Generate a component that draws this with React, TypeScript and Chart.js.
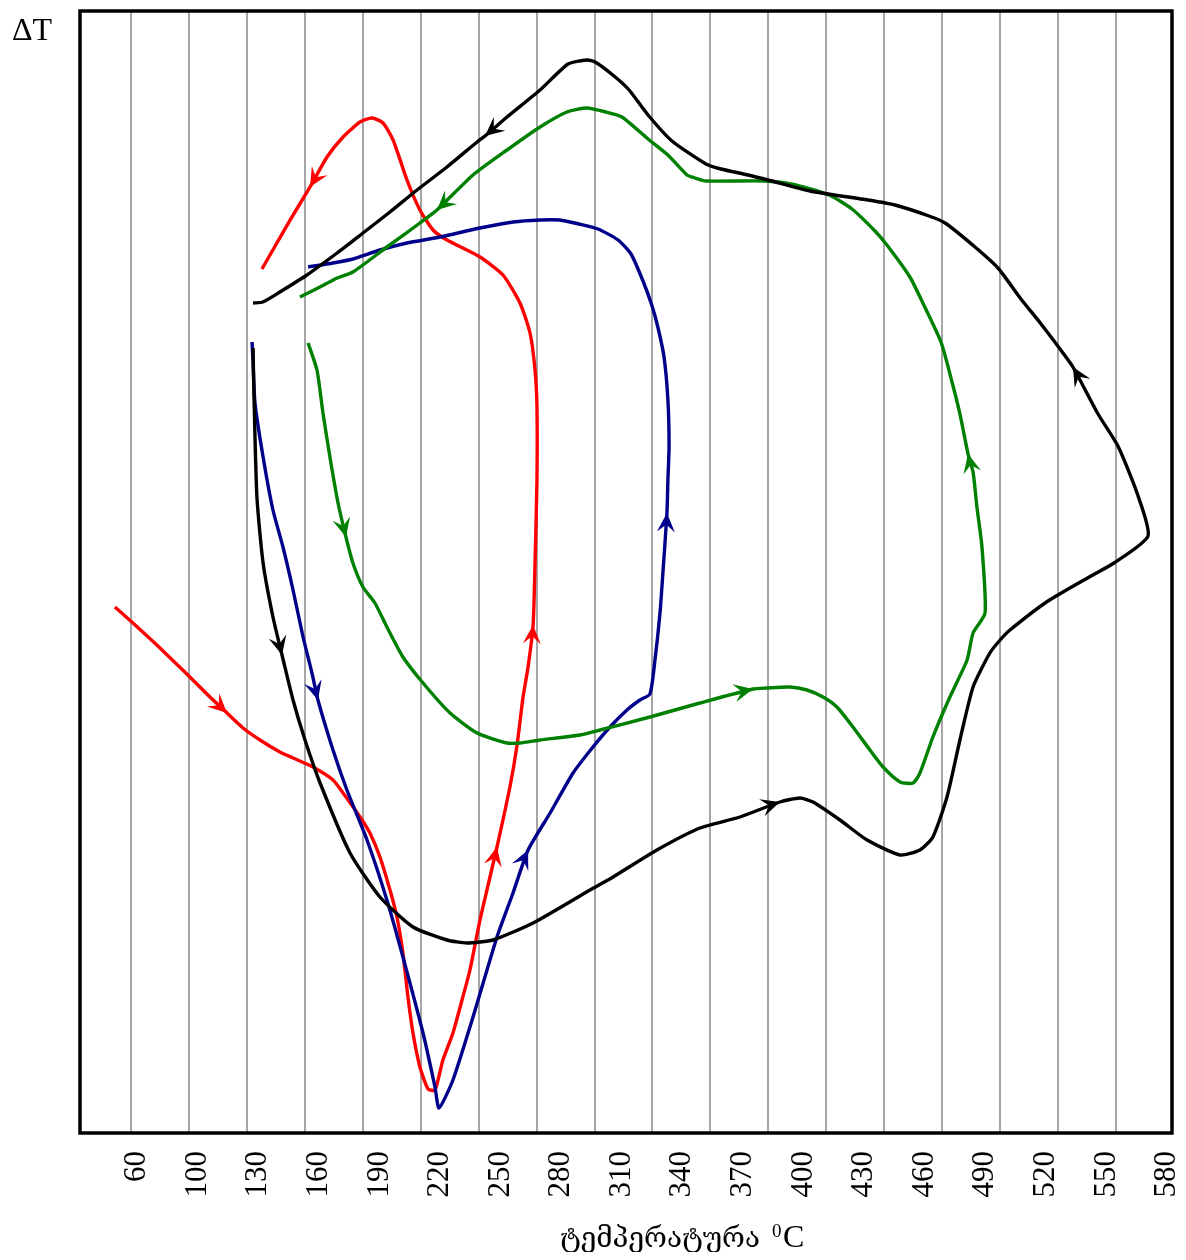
import { useEffect, useRef } from "react";
import { Chart, registerables } from "chart.js";

Chart.register(...registerables);

// Labels printed under the temperature axis
const tickLabels = [
  "60", "100", "130", "160", "190", "220", "250", "280", "310",
  "340", "370", "400", "430", "460", "490", "520", "550", "580",
];

// Temperatures (°C) where the vertical grid lines stand
const gridTemps = [
  70, 100, 130, 160, 190, 220, 250, 280, 310,
  340, 370, 400, 430, 460, 490, 520, 550, 580,
];

type Pt = [number, number];

// [temperature, ΔT] in drawing order
const curveBlack: Pt[] = [
  [133.2, 78.5], [133.7, 73.6], [135.2, 63.6], [138.4, 57.0], [143.5, 51.6],
  [148.2, 47.8], [153.9, 43.3], [160.1, 39.3], [167.9, 35.0], [183.4, 28.0],
  [198.9, 23.6], [216.0, 20.6], [233.6, 19.3], [244.0, 19.0], [257.4, 19.3],
  [278.2, 21.0], [307.7, 24.3], [319.6, 25.6], [342.3, 28.3], [364.6, 30.5],
  [385.3, 31.6], [406.0, 33.1], [416.4, 33.5], [423.1, 33.1], [437.1, 31.3],
  [451.1, 29.3], [468.2, 27.8], [478.5, 28.3], [485.2, 29.6], [492.5, 33.6],
  [499.2, 39.3], [506.0, 44.6], [514.7, 48.0], [520.0, 49.3], [525.1, 50.3],
  [544.8, 53.2], [567.0, 55.7], [579.0, 57.0], [596.6, 59.7], [590.9, 64.0],
  [581.0, 68.7], [570.7, 71.9], [557.7, 76.6], [551.0, 78.4], [541.2, 80.9],
  [530.8, 83.4], [518.9, 86.5], [507.0, 88.6], [491.5, 91.0], [483.2, 91.7],
  [465.6, 92.8], [451.6, 93.3], [421.6, 94.2], [399.8, 95.3], [389.5, 95.8],
  [375.5, 96.4], [367.7, 96.9], [350.1, 99.2], [337.7, 101.8], [327.9, 104.3],
  [320.1, 105.7], [310.3, 107.1], [306.1, 107.3], [296.3, 106.9], [281.8, 104.3],
  [264.7, 101.6], [253.3, 99.7], [249.2, 99.1], [233.6, 96.6], [218.1, 94.3],
  [204.1, 92.1], [190.1, 90.0], [176.7, 88.0], [161.1, 85.8], [147.1, 84.1],
  [138.3, 83.1], [133.2, 83.0],
];
const arrowsBlack = [5, 21, 42, 66];

const curveGreen: Pt[] = [
  [161.7, 79.0], [166.3, 76.3], [169.4, 72.0], [173.0, 67.6], [177.2, 63.0],
  [181.3, 59.6], [184.9, 57.0], [190.1, 54.6], [196.3, 53.0], [202.5, 50.6],
  [210.8, 47.6], [221.2, 45.0], [235.2, 42.0], [249.2, 40.0], [264.7, 39.0],
  [271.4, 39.0], [281.8, 39.3], [302.5, 39.8], [312.8, 40.3], [338.7, 41.6],
  [364.6, 43.0], [392.0, 44.4], [399.3, 44.5], [411.2, 44.6], [420.0, 44.3],
  [428.3, 43.6], [435.5, 42.6], [443.8, 40.6], [452.6, 38.3], [459.4, 36.6],
  [468.2, 35.1], [474.9, 35.0], [478.5, 36.0], [485.2, 39.6], [494.0, 43.6],
  [502.9, 47.3], [506.0, 50.0], [512.2, 52.0], [510.6, 58.6], [508.0, 62.6],
  [506.0, 66.1], [503.4, 67.9], [499.2, 71.9], [495.1, 75.1], [489.4, 79.1],
  [479.0, 83.4], [473.3, 85.6], [461.4, 88.8], [455.2, 90.2], [443.3, 92.4],
  [431.4, 93.8], [411.8, 94.9], [397.8, 95.2], [367.7, 95.2], [362.0, 95.5],
  [357.9, 95.8], [348.0, 97.8], [337.7, 99.4], [324.2, 101.6], [315.9, 102.1],
  [306.1, 102.5], [295.7, 102.1], [281.8, 100.6], [264.7, 98.3], [247.1, 95.8],
  [228.4, 92.3], [219.6, 91.0], [202.5, 88.6], [184.9, 86.1], [176.7, 85.5],
  [167.9, 84.6], [157.5, 83.6],
];
const arrowsGreen = [5, 21, 41, 65];

const curveBlue: Pt[] = [
  [132.7, 79.1], [133.2, 77.0], [134.2, 73.0], [138.4, 67.6], [143.5, 62.3],
  [148.7, 58.6], [153.9, 54.3], [159.1, 49.6], [163.7, 46.0], [166.8, 43.3],
  [174.6, 38.3], [181.8, 34.3], [192.2, 29.3], [202.5, 23.3], [210.8, 17.6],
  [221.2, 10.0], [227.4, 4.6], [229.5, 2.5], [236.7, 5.3], [247.1, 11.6],
  [259.5, 19.6], [267.8, 24.0], [275.6, 28.3], [287.0, 32.0], [298.9, 36.0],
  [309.2, 38.6], [318.0, 40.6], [326.8, 42.3], [333.5, 43.3], [338.7, 43.9],
  [341.3, 47.3], [343.9, 52.0], [345.4, 56.0], [347.5, 62.0], [348.0, 65.3],
  [348.6, 68.7], [348.0, 73.3], [346.0, 77.6], [342.9, 80.5], [339.8, 82.7],
  [335.1, 85.2], [328.9, 87.9], [322.2, 89.3], [311.8, 90.4], [302.0, 90.9],
  [292.1, 91.3], [281.8, 91.3], [267.8, 91.1], [250.7, 90.5], [230.0, 89.6],
  [212.9, 89.0], [198.9, 88.3], [184.9, 87.4], [174.6, 87.0], [161.7, 86.6],
];
const arrowsBlue = [9, 22, 33];

const curveRed: Pt[] = [
  [61.7, 52.6], [71.0, 51.0], [85.0, 48.5], [100.5, 45.6], [110.9, 43.6],
  [119.7, 42.0], [128.0, 40.5], [136.8, 39.3], [147.1, 38.1], [153.9, 37.5],
  [164.2, 36.6], [174.6, 35.3], [179.8, 34.0], [188.6, 31.6], [193.7, 30.0],
  [198.9, 27.6], [204.1, 24.3], [207.7, 21.6], [210.8, 18.0], [213.4, 13.6],
  [216.0, 10.0], [219.6, 6.6], [223.8, 4.4], [227.4, 4.3], [231.5, 7.3],
  [236.7, 10.0], [241.4, 13.3], [245.5, 16.3], [250.7, 21.3], [254.3, 24.3],
  [259.5, 28.6], [266.2, 34.6], [269.9, 38.8], [273.0, 43.6], [275.6, 46.6],
  [278.2, 50.8], [279.2, 57.0], [280.2, 65.3], [280.2, 72.6], [279.2, 76.3],
  [276.6, 80.0], [271.4, 83.0], [262.6, 85.8], [250.7, 87.6], [233.6, 89.3],
  [226.4, 90.3], [219.6, 92.3], [212.9, 95.3], [205.7, 99.3], [200.5, 101.0],
  [194.8, 101.5], [188.6, 101.1], [179.8, 99.6], [171.5, 97.6], [162.7, 94.6],
  [152.4, 91.3], [137.8, 86.4],
];
const arrowsRed = [5, 30, 35, 54];

const series = [
  { color: "#000000", points: curveBlack, arrows: arrowsBlack },
  { color: "#008000", points: curveGreen, arrows: arrowsGreen },
  { color: "#00008b", points: curveBlue, arrows: arrowsBlue },
  { color: "#ff0000", points: curveRed, arrows: arrowsRed },
];

const SERIF = "'Liberation Serif', 'Times New Roman', 'DejaVu Serif', serif";

// Arrowheads marking the direction each curve is traced
const arrowPlugin = {
  id: "flowArrows",
  afterDatasetsDraw(chart: any) {
    const ctx = chart.ctx as CanvasRenderingContext2D;
    chart.data.datasets.forEach((ds: any, i: number) => {
      const pts = chart.getDatasetMeta(i).data;
      (ds.arrowAt as number[]).forEach((k) => {
        const p = pts[k];
        const a = pts[Math.max(k - 1, 0)];
        const b = pts[Math.min(k + 1, pts.length - 1)];
        let dx = b.x - a.x;
        let dy = b.y - a.y;
        const len = Math.hypot(dx, dy) || 1;
        dx /= len;
        dy /= len;
        const L = 19;
        const W = 9;
        const nx = -dy;
        const ny = dx;
        ctx.save();
        ctx.beginPath();
        ctx.moveTo(p.x, p.y);
        ctx.lineTo(p.x - dx * L + nx * W, p.y - dy * L + ny * W);
        ctx.lineTo(p.x - dx * L * 0.6, p.y - dy * L * 0.6);
        ctx.lineTo(p.x - dx * L - nx * W, p.y - dy * L - ny * W);
        ctx.closePath();
        ctx.fillStyle = ds.borderColor;
        ctx.fill();
        ctx.restore();
      });
    });
  },
};

// Plot frame, ΔT caption and the temperature axis title
const framePlugin = {
  id: "frameAndCaptions",
  afterDraw(chart: any) {
    const ctx = chart.ctx as CanvasRenderingContext2D;
    const { left, right, top, bottom } = chart.chartArea;
    ctx.save();
    ctx.strokeStyle = "#000";
    ctx.lineWidth = 3.5;
    ctx.strokeRect(left, top, right - left, bottom - top);

    ctx.fillStyle = "#000";
    ctx.textBaseline = "alphabetic";
    ctx.textAlign = "left";
    ctx.font = `32px ${SERIF}`;
    ctx.fillText("ΔT", 4, 32);

    // axis title: "ტემპერატურა ⁰C"
    const word = "ტემპერატურა";
    const targetW = 200;
    ctx.font = `30px ${SERIF}`;
    const w0 = ctx.measureText(word).width || targetW;
    const size = (30 * targetW) / w0;
    ctx.font = `${size}px ${SERIF}`;
    const x0 = 552;
    const base = 1239;
    ctx.fillText(word, x0, base);
    ctx.font = `19px ${SERIF}`;
    ctx.fillText("0", x0 + 212, base - 10);
    ctx.font = `32px ${SERIF}`;
    ctx.fillText("C", x0 + 223, base);
    ctx.restore();
  },
};

export default function App() {
  const canvasRef = useRef<HTMLCanvasElement | null>(null);

  useEffect(() => {
    if (!canvasRef.current) return;
    const chart = new Chart(canvasRef.current, {
      type: "scatter",
      data: {
        datasets: series.map((s) => ({
          data: s.points.map(([x, y]) => ({ x, y })),
          borderColor: s.color,
          backgroundColor: s.color,
          borderWidth: 3.4,
          showLine: true,
          pointRadius: 0,
          pointHoverRadius: 0,
          tension: 0.2,
          fill: false,
          borderJoinStyle: "round",
          arrowAt: s.arrows,
        })) as any,
      },
      options: {
        animation: false,
        responsive: true,
        maintainAspectRatio: false,
        events: [],
        layout: { padding: { left: 72, right: 14, top: 3, bottom: 0 } },
        plugins: {
          legend: { display: false },
          tooltip: { enabled: false },
          title: { display: false },
        },
        scales: {
          x: {
            type: "linear",
            position: "bottom",
            min: 43.6,
            max: 609,
            afterBuildTicks: (scale: any) => {
              scale.ticks = gridTemps.map((v) => ({ value: v }));
            },
            afterFit: (scale: any) => {
              scale.height = 0;
              scale.paddingLeft = 0;
              scale.paddingRight = 0;
            },
            ticks: { display: false },
            grid: { color: "#a6a6a6", lineWidth: 2, drawTicks: false },
            border: { display: false },
          },
          xLabels: {
            type: "linear",
            position: "bottom",
            min: 0.06,
            max: 18.08,
            afterBuildTicks: (scale: any) => {
              scale.ticks = tickLabels.map((_, i) => ({ value: i + 1 }));
            },
            afterFit: (scale: any) => {
              scale.height = 119;
              scale.paddingLeft = 0;
              scale.paddingRight = 0;
            },
            ticks: {
              autoSkip: false,
              minRotation: 90,
              maxRotation: 90,
              padding: 18,
              color: "#000",
              font: { family: SERIF, size: 31 },
              callback: (_v: any, index: number) => tickLabels[index],
            },
            grid: { display: false, drawTicks: false },
            border: { display: false },
          },
          y: {
            type: "linear",
            display: false,
            min: 0,
            max: 112.2,
          },
        },
      } as any,
      plugins: [arrowPlugin, framePlugin],
    });
    return () => chart.destroy();
  }, []);

  return (
    <div style={{ position: "relative", width: 1178, height: 1244 }}>
      <canvas ref={canvasRef} />
    </div>
  );
}
